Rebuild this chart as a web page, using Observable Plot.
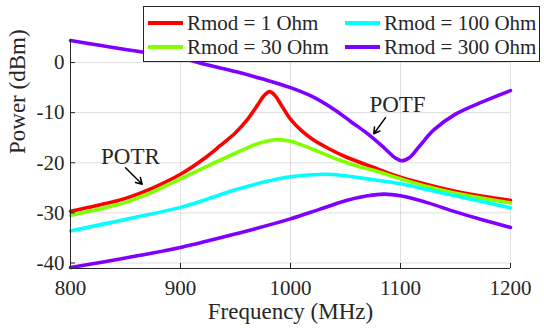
<!DOCTYPE html>
<html><head><meta charset="utf-8">
<script src="https://cdn.jsdelivr.net/npm/d3@7"></script>
<script src="https://cdn.jsdelivr.net/npm/@observablehq/plot@0.6"></script>
<style>
body{margin:0;background:#fff;}
#wrap{position:relative;width:544px;height:328px;font-family:"Liberation Serif","Times New Roman",Times,"DejaVu Serif",serif;color:#262626;}
#legend{position:absolute;left:143px;top:6px;width:397px;height:56px;border:1px solid #262626;background:#fff;box-sizing:border-box;}
.item{position:absolute;height:24px;display:flex;align-items:center;font-size:21px;white-space:nowrap;line-height:24px;}
.sw{width:35px;height:3.5px;margin-right:4px;}
</style></head><body>
<div id="wrap"><div id="chart"></div><div id="legend"></div></div>
<script>
// ---- data ----
const labels = ["Rmod = 1 Ohm", "Rmod = 30 Ohm", "Rmod = 100 Ohm", "Rmod = 300 Ohm"];
const colors = ["#ff0000", "#80ff00", "#00ffff", "#8000ff"];

const freq1 = [800,825,850,875,900,920,936,950,960,970,976,981,986,992,1000,1010,1020,1035,1050,1075,1100,1125,1150,1175,1200];
const pow1  = [-29.7,-28.5,-27.1,-25.0,-22.3,-19.4,-16.6,-14.0,-11.6,-8.5,-6.6,-5.8,-6.6,-8.6,-11.3,-13.6,-15.3,-17.2,-18.8,-20.9,-22.9,-24.4,-25.7,-26.7,-27.5];

const freq30 = [800,825,850,875,900,925,950,970,986,1000,1020,1040,1060,1080,1100,1125,1150,1175,1200];
const pow30  = [-30.5,-29.3,-27.9,-25.8,-23.2,-20.6,-18.1,-16.2,-15.4,-15.7,-17.3,-19.1,-20.6,-21.8,-23.2,-24.8,-26.1,-27.1,-28.0];

const freq100 = [800,850,900,925,950,975,1000,1030,1050,1075,1100,1125,1150,1175,1200];
const pow100  = [-33.6,-31.3,-28.9,-27.2,-25.4,-23.9,-22.8,-22.3,-22.6,-23.4,-24.2,-25.4,-26.6,-27.8,-29.0];

const freq300 = [800,850,900,950,1000,1025,1050,1070,1085,1100,1125,1150,1175,1200];
const pow300  = [-40.9,-39.0,-36.9,-34.2,-31.2,-29.4,-27.6,-26.6,-26.25,-26.6,-28.0,-29.8,-31.4,-32.9];

const freq300F = [800,825,850,875,900,925,950,975,1000,1020,1040,1055,1070,1085,1095,1101,1108,1118,1130,1150,1175,1200];
const pow300F  = [4.4,3.5,2.6,1.8,0.9,-0.5,-1.8,-3.3,-5.0,-6.8,-9.4,-11.8,-14.2,-17.0,-19.0,-19.6,-19.0,-16.5,-13.5,-10.3,-7.8,-5.6];

const xTicks = [800, 900, 1000, 1100, 1200];
const yTicks = [-40, -30, -20, -10, 0];
const xDomain = [800, 1200];
const yDomain = [-41.1, 4.6];

const noteText = ["POTR", "POTF"];
const noteX = [854.5, 1097.3];
const noteY = [-18.7, -8.3];
const arrowX1 = [850, 1086.4];
const arrowY1 = [-21.0, -11.0];
const arrowX2 = [865.2, 1075.7];
const arrowY2 = [-24.3, -14.2];

// ---- chart ----
const curves = [
  [freq1, pow1, colors[0]],
  [freq30, pow30, colors[1]],
  [freq100, pow100, colors[2]],
  [freq300, pow300, colors[3]],
  [freq300F, pow300F, colors[3]]
];
const ink = "#262626";
const serif = '"Liberation Serif","Times New Roman",Times,"DejaVu Serif",serif';
const notes = noteText.map((t, i) => ({t, x: noteX[i], y: noteY[i], x1: arrowX1[i], y1: arrowY1[i], x2: arrowX2[i], y2: arrowY2[i]}));

const chart = Plot.plot({
  width: 544, height: 328,
  marginLeft: 70, marginRight: 34, marginTop: 39, marginBottom: 60,
  style: {fontFamily: serif, fontSize: "21px", color: ink, background: "white", overflow: "visible"},
  x: {domain: xDomain},
  y: {domain: yDomain},
  marks: [
    Plot.gridX(xTicks, {stroke: ink, strokeOpacity: 0.15}),
    Plot.gridY(yTicks, {stroke: ink, strokeOpacity: 0.15}),
    ...curves.map(([f, p, c]) => Plot.line(d3.zip(f, p), {x: "0", y: "1", stroke: c, strokeWidth: 3.6, curve: "catmull-rom"})),
    Plot.axisX(xTicks, {tickSize: -5, tickPadding: 17, tickFormat: d => String(d), label: null, stroke: ink, fill: ink, fontSize: 21, fontFamily: serif}),
    Plot.axisY(yTicks, {tickSize: -5, tickPadding: 11, tickFormat: d => String(d), label: null, stroke: ink, fill: ink, fontSize: 21, fontFamily: serif}),
    Plot.ruleX([xDomain[0]], {stroke: ink}),
    Plot.ruleY([yDomain[0]], {stroke: ink}),
    Plot.text(["Frequency (MHz)"], {text: d => d, frameAnchor: "bottom", lineAnchor: "bottom", dy: 50, fontSize: 23, fill: ink, fontFamily: serif}),
    Plot.text(["Power (dBm)"], {text: d => d, frameAnchor: "left", lineAnchor: "top", rotate: -90, dx: -62, fontSize: 23, fill: ink, fontFamily: serif}),
    Plot.text(notes, {x: "x", y: "y", text: "t", fontSize: 23, fill: ink, fontFamily: serif}),
    Plot.arrow(notes, {x1: "x1", y1: "y1", x2: "x2", y2: "y2", stroke: "black", strokeWidth: 1.5, headLength: 7})
  ]
});
document.getElementById("chart").appendChild(chart);

// ---- legend ----
const legend = document.getElementById("legend");
const slots = [[4, 4], [4, 28], [201, 4], [201, 28]];
labels.forEach((lab, i) => {
  const it = document.createElement("div");
  it.className = "item";
  it.style.left = slots[i][0] + "px";
  it.style.top = slots[i][1] + "px";
  const sw = document.createElement("span");
  sw.className = "sw";
  sw.style.background = colors[i];
  const tx = document.createElement("span");
  tx.textContent = lab;
  it.appendChild(sw); it.appendChild(tx);
  legend.appendChild(it);
});
</script></body></html>
